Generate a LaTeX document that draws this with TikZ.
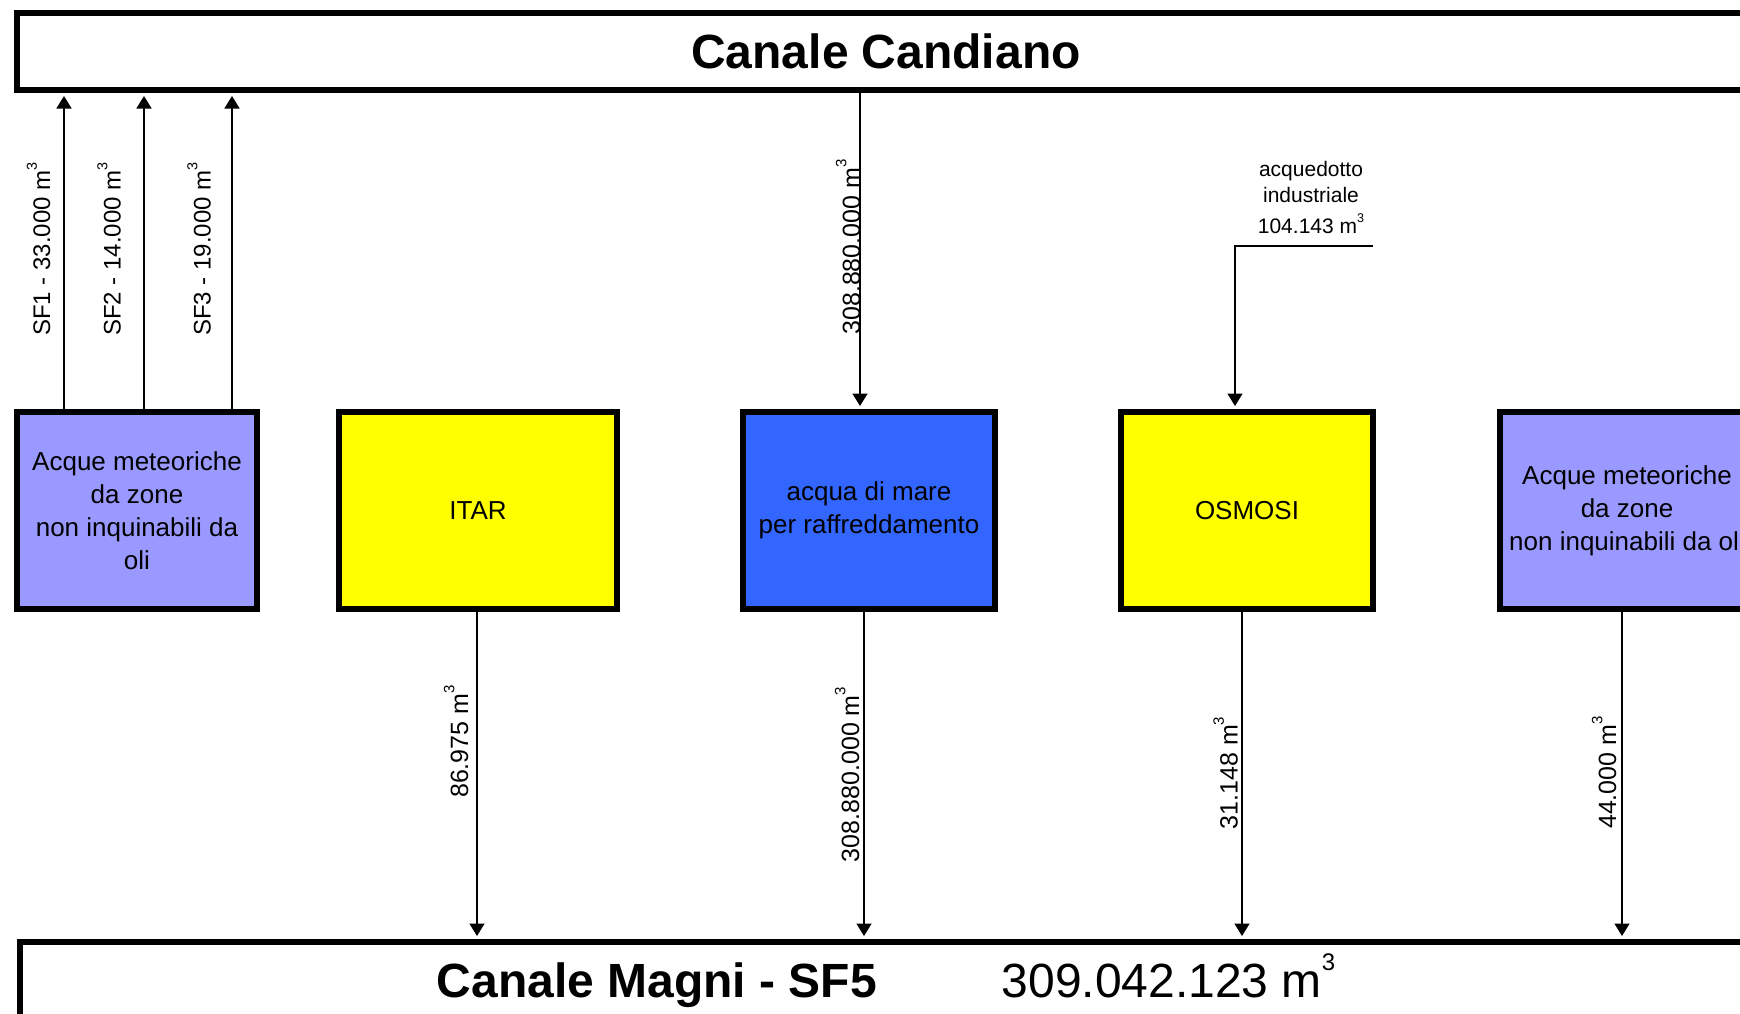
\documentclass[tikz,border=0pt]{standalone}
\usepackage{fontspec}
\setmainfont{Liberation Sans}
\usetikzlibrary{arrows.meta}
\definecolor{meteo}{HTML}{9999FF}
\definecolor{mare}{HTML}{3366FF}
\definecolor{giallo}{HTML}{FFFF00}
\newcommand{\cubo}{\raisebox{0.55em}{\scalebox{0.6}{3}}}
\tikzset{
  procbox/.style={draw=black, line width=6pt, inner sep=0pt, align=center,
    minimum height=197pt, font=\fontsize{26}{33}\selectfont},
  chan/.style={draw=black, line width=6pt, inner sep=0pt, fill=white},
  arr/.style={line width=1.6pt, -{Triangle[length=12.5pt,width=15pt]}, shorten >=3pt},
  vlab/.style={rotate=90, inner sep=0pt, font=\fontsize{25}{30}\selectfont},
  sflab/.style={rotate=90, inner sep=0pt, font=\fontsize{24}{28}\selectfont},
}
\begin{document}
\begin{tikzpicture}[x=1pt,y=-1pt]
\useasboundingbox (0,0) rectangle (1740,1013);
\fill[white] (0,0) rectangle (1740,1013);
\clip (0,0) rectangle (1740,1013);

% channels
\node[chan, minimum width=1739pt, minimum height=77pt,
      font=\fontsize{48}{56}\selectfont\bfseries] (candiano) at (886,51.5) {Canale Candiano};
\node[chan, anchor=north west, minimum width=1740pt, minimum height=150pt] (magni) at (17,939) {};
\node[anchor=base, inner sep=0pt, font=\fontsize{48}{56}\selectfont] (magnilab) at (886,997)
  {\textbf{Canale Magni - SF5}\hspace{125pt}309.042.123 m\raisebox{0.56em}{\scalebox{0.5}{3}}};

% process boxes
\node[procbox, fill=meteo, minimum width=240pt] (met1) at (137,510.5)
  {Acque meteoriche\\da zone\\non inquinabili da\\oli};
\node[procbox, fill=giallo, minimum width=277.5pt] (itar) at (478,510.5) {ITAR};
\node[procbox, fill=mare, minimum width=252pt] (blue) at (869,510.5)
  {acqua di mare\\per raffreddamento};
\node[procbox, fill=giallo, minimum width=252pt] (osmosi) at (1247,510.5) {OSMOSI};
\node[procbox, fill=meteo, minimum width=254pt] (met2) at (1627,510.5)
  {Acque meteoriche\\da zone\\non inquinabili da oli};

% x positions of connectors
\coordinate (xsf1) at (64,0);
\coordinate (xsf2) at (144,0);
\coordinate (xsf3) at (232,0);
\coordinate (xbin) at (860,0);
\coordinate (xaq) at (1235,0);
\coordinate (xitar) at (477,0);
\coordinate (xbout) at (864,0);
\coordinate (xosm) at (1242,0);
\coordinate (xmr) at (1622,0);
\coordinate (aqend) at (1373,246);

% connectors
\draw[arr] (met1.north -| xsf1) -- (candiano.south -| xsf1);
\draw[arr] (met1.north -| xsf2) -- (candiano.south -| xsf2);
\draw[arr] (met1.north -| xsf3) -- (candiano.south -| xsf3);
\draw[arr] (candiano.south -| xbin) -- (blue.north -| xbin);
\draw[arr] (aqend) -| (osmosi.north -| xaq);
\draw[arr] (itar.south -| xitar) -- (magni.north -| xitar);
\draw[arr] (blue.south -| xbout) -- (magni.north -| xbout);
\draw[arr] (osmosi.south -| xosm) -- (magni.north -| xosm);
\draw[arr] (met2.south -| xmr) -- (magni.north -| xmr);

% labels
\node[sflab, anchor=base] (lsf1) at (50,249) {SF1 - 33.000 m\cubo};
\node[sflab, anchor=base] (lsf2) at (120.5,249) {SF2 - 14.000 m\cubo};
\node[sflab, anchor=base] (lsf3) at (210.5,249) {SF3 - 19.000 m\cubo};
\node[vlab, anchor=base] (lbin) at (860,247) {308.880.000 m\cubo};
\node[vlab, anchor=base] (litar) at (468,741.5) {86.975 m\cubo};
\node[vlab, anchor=base] (lbout) at (859,774.5) {308.880.000 m\cubo};
\node[vlab, anchor=base] (losm) at (1237.5,773) {31.148 m\cubo};
\node[vlab, anchor=base] (lmr) at (1616,772.5) {44.000 m\cubo};
\node[anchor=south, inner sep=0pt, align=center, font=\fontsize{21}{26}\selectfont] (laq) at (1311,234)
  {acquedotto\\industriale\\[5pt]104.143 m\cubo};
\end{tikzpicture}
\end{document}
